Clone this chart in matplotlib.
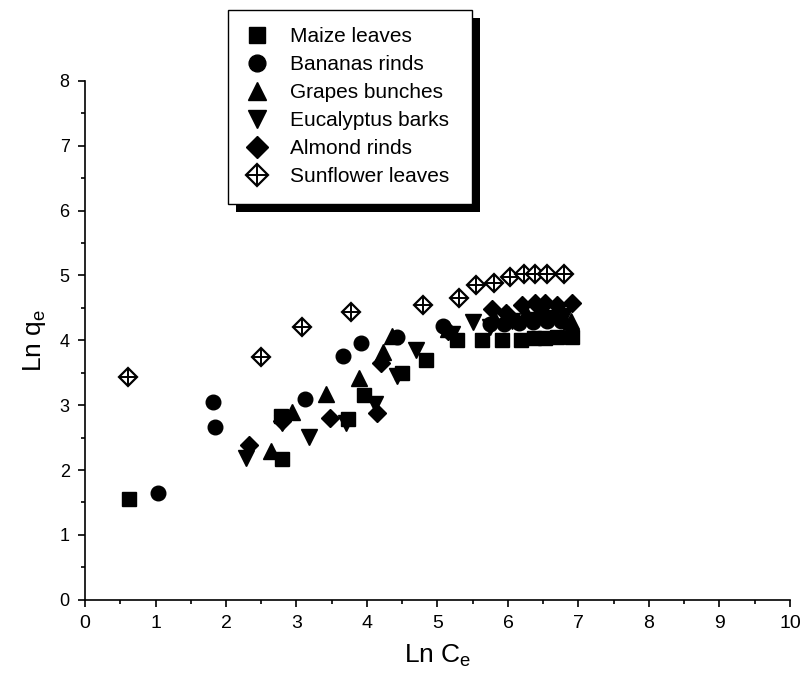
import matplotlib
matplotlib.use("Agg")
import matplotlib.pyplot as plt
from matplotlib.patches import Rectangle
from matplotlib.transforms import IdentityTransform
from matplotlib.ticker import MultipleLocator

plt.rcParams['font.family'] = ['Liberation Sans', 'DejaVu Sans']
plt.rcParams['mathtext.default'] = 'regular'

# Ln Ce / Ln qe
maize_x = [0.63, 2.78, 2.79, 3.73, 3.96, 4.50, 4.83, 5.28, 5.63, 5.92, 6.18, 6.37, 6.53, 6.70, 6.91]
maize_y = [1.56, 2.84, 2.17, 2.78, 3.15, 3.50, 3.70, 4.00, 4.00, 4.00, 4.00, 4.03, 4.04, 4.05, 4.05]

banana_x = [1.03, 1.82, 1.85, 3.12, 3.66, 3.92, 4.43, 5.08, 5.75, 5.95, 6.15, 6.35, 6.55, 6.75]
banana_y = [1.64, 3.05, 2.66, 3.09, 3.76, 3.96, 4.05, 4.22, 4.25, 4.25, 4.27, 4.28, 4.30, 4.30]

grapes_x = [2.64, 2.93, 3.42, 3.88, 4.22, 4.35, 5.15, 5.80, 6.00, 6.25, 6.45, 6.65, 6.90]
grapes_y = [2.30, 2.89, 3.18, 3.42, 3.82, 4.07, 4.18, 4.35, 4.40, 4.42, 4.42, 4.40, 4.30]

euca_x = [2.28, 2.80, 3.18, 3.70, 4.12, 4.43, 4.69, 5.21, 5.50, 5.75, 6.05, 6.30, 6.55, 6.80]
euca_y = [2.19, 2.72, 2.51, 2.73, 3.02, 3.45, 3.85, 4.10, 4.28, 4.20, 4.30, 4.32, 4.35, 4.38]

almond_x = [2.32, 2.80, 3.47, 4.14, 4.20, 5.15, 5.78, 5.97, 6.20, 6.39, 6.53, 6.70, 6.91]
almond_y = [2.38, 2.75, 2.81, 2.88, 3.65, 4.15, 4.48, 4.42, 4.55, 4.58, 4.58, 4.55, 4.58]

sun_x = [0.61, 2.49, 3.08, 3.77, 4.79, 5.31, 5.54, 5.80, 6.03, 6.23, 6.39, 6.56, 6.79]
sun_y = [3.43, 3.75, 4.20, 4.43, 4.55, 4.65, 4.85, 4.88, 4.98, 5.02, 5.02, 5.02, 5.02]

labels = ['Maize leaves', 'Bananas rinds', 'Grapes bunches',
          'Eucalyptus barks', 'Almond rinds', 'Sunflower leaves']

fig = plt.figure(figsize=(8.02, 6.91), dpi=100)
ax = fig.add_axes([0.106, 0.132, 0.879, 0.751])

kw = dict(linestyle='none', color='black', markeredgecolor='black')
h1, = ax.plot(maize_x, maize_y, marker='s', markersize=9.5, **kw)
h2, = ax.plot(banana_x, banana_y, marker='o', markersize=10.5, **kw)
h3, = ax.plot(grapes_x, grapes_y, marker='^', markersize=11, **kw)
h4, = ax.plot(euca_x, euca_y, marker='v', markersize=11, **kw)
h5, = ax.plot(almond_x, almond_y, marker='D', markersize=9.5, **kw)
# diamond with a cross inside
sun_d = dict(linestyle='none', marker='D', markersize=9.5, markerfacecolor='white',
             markeredgecolor='black', markeredgewidth=1.6)
sun_p = dict(linestyle='none', marker='+', markersize=13, color='black', markeredgewidth=1.4)
ax.plot(sun_x, sun_y, **sun_d)
ax.plot(sun_x, sun_y, **sun_p)
h6a, = ax.plot([], [], **sun_d)
h6b, = ax.plot([], [], **sun_p)

ax.set_xlim(0, 10)
ax.set_ylim(0, 8)
ax.xaxis.set_major_locator(MultipleLocator(1))
ax.xaxis.set_minor_locator(MultipleLocator(0.5))
ax.yaxis.set_major_locator(MultipleLocator(1))
ax.yaxis.set_minor_locator(MultipleLocator(0.5))
ax.spines['top'].set_visible(False)
ax.spines['right'].set_visible(False)
ax.spines['left'].set_linewidth(1.2)
ax.spines['bottom'].set_linewidth(1.2)
ax.tick_params(which='major', direction='out', length=5, width=1.2, labelsize=13, pad=6)
ax.tick_params(which='minor', direction='out', length=3, width=1.2)
for t in ax.get_xticklabels():
    t.set_family(['Liberation Sans Narrow', 'Liberation Sans'])
    t.set_fontsize(14)
ax.set_xlabel('Ln C$_e$', fontsize=19, labelpad=8)
ax.set_ylabel('Ln q$_e$', fontsize=19, labelpad=8)

leg = ax.legend([h1, h2, h3, h4, h5, (h6a, h6b)], labels,
                loc='upper left', bbox_to_anchor=(0.203, 1.137, 0.346, 0),
                mode='expand', fontsize=15, frameon=True, fancybox=False,
                edgecolor='black', framealpha=1, borderpad=0.85,
                labelspacing=0.43, handletextpad=1.03, handlelength=1.1,
                borderaxespad=0, markerscale=1.15)
leg.get_frame().set_linewidth(1.0)
leg.set_zorder(10)

# heavy offset shadow behind the legend box
fig.canvas.draw()
bb = leg.get_frame().get_window_extent()
off = 8
ax.add_patch(Rectangle((bb.x0 + off, bb.y0 - off), bb.width, bb.height,
                       facecolor='black', edgecolor='none',
                       transform=IdentityTransform(), clip_on=False, zorder=9))

fig.savefig('out.png', dpi=100)
